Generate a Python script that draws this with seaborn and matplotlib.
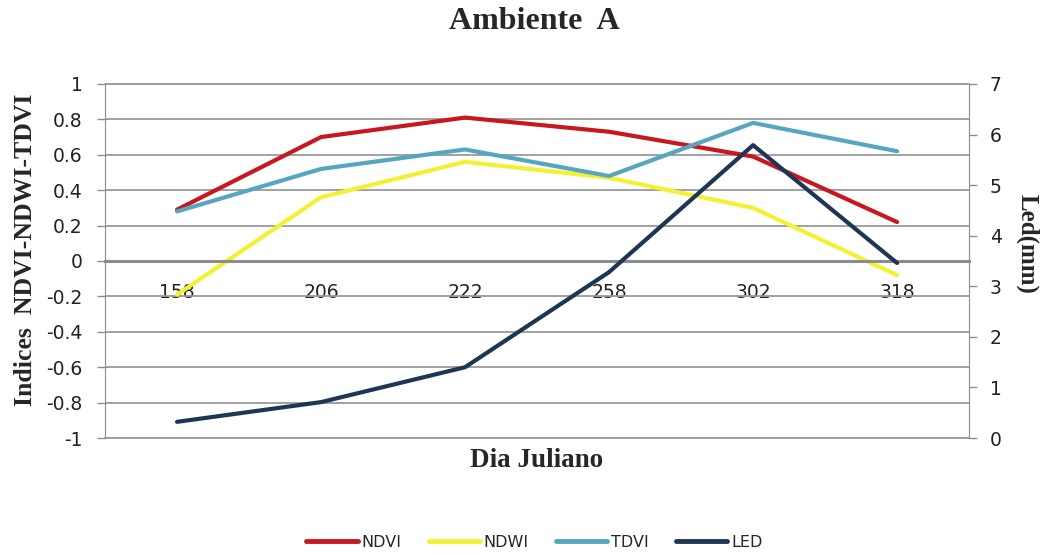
import pandas as pd
import matplotlib
matplotlib.use("Agg")
import matplotlib.pyplot as plt
import seaborn as sns

# Datos
dias = ["158", "206", "222", "258", "302", "318"]
ndvi = [0.29, 0.70, 0.81, 0.73, 0.59, 0.22]
ndwi = [-0.19, 0.36, 0.56, 0.47, 0.30, -0.08]
tdvi = [0.28, 0.52, 0.63, 0.48, 0.78, 0.62]
led = [0.32, 0.71, 1.40, 3.28, 5.79, 3.46]

colores = {"NDVI": "#C8171E", "NDWI": "#F2F233", "TDVI": "#55A6BE", "LED": "#1E3554"}

pos = list(range(len(dias)))
df = pd.DataFrame({
    "pos": pos * 3,
    "valor": ndvi + ndwi + tdvi,
    "indice": ["NDVI"] * 6 + ["NDWI"] * 6 + ["TDVI"] * 6,
})
df_led = pd.DataFrame({"pos": pos, "valor": led, "indice": ["LED"] * 6})

sns.set_style("white")
plt.rcParams["font.family"] = ["DejaVu Sans"]
gris = "#9a9a9a"
serif = "Liberation Serif"

fig = plt.figure(figsize=(10.4, 5.56), dpi=100)
ax = fig.add_axes([0.101, 0.2122, 0.8308, 0.6368])

sns.lineplot(data=df, x="pos", y="valor", hue="indice", palette=colores,
             linewidth=3, ax=ax, legend=False)

ax.set_xlim(-0.5, 5.5)
ax.set_ylim(-1, 1)
ax.set_yticks([-1, -0.8, -0.6, -0.4, -0.2, 0, 0.2, 0.4, 0.6, 0.8, 1])
ax.set_yticklabels(["-1", "-0.8", "-0.6", "-0.4", "-0.2", "0", "0.2", "0.4", "0.6", "0.8", "1"])
ax.yaxis.grid(True, color=gris, linewidth=1.3)
for yv in (-1, 1):
    ax.axhline(yv, color=gris, linewidth=1.3, clip_on=False, zorder=0.5)
ax.set_axisbelow(True)

# eje x cruzando en 0
ax.spines["bottom"].set_position(("data", 0))
ax.spines["bottom"].set_color("#8c8c8c")
ax.spines["bottom"].set_linewidth(2.2)
ax.spines["top"].set_visible(False)
ax.spines["left"].set_color("#8c8c8c")
ax.spines["right"].set_color("#8c8c8c")
ax.set_xticks(pos)
ax.set_xticklabels(dias)
ax.tick_params(axis="x", length=0, pad=16, labelsize=13.5, colors="#222222")
ax.tick_params(axis="y", length=6, width=1, color="#8c8c8c", labelsize=13.5,
               labelcolor="#222222", left=True, pad=10)
ax.set_xlabel("")
ax.set_ylabel("")

ax2 = ax.twinx()
sns.lineplot(data=df_led, x="pos", y="valor", color=colores["LED"],
             linewidth=3, ax=ax2, legend=False)
ax2.set_ylim(0, 7)
ax2.set_yticks(range(8))
for s in ax2.spines.values():
    s.set_visible(False)
ax2.tick_params(axis="y", length=6, width=1, color="#8c8c8c", labelsize=13.5,
                labelcolor="#222222", right=True, pad=9)
ax2.set_ylabel("")
ax2.set_xlim(-0.5, 5.5)

fig.text(0.514, 0.962, "Ambiente  A", family=serif, fontweight="bold",
         fontsize=23, ha="center", va="center")
fig.text(0.516, 0.172, "Dia Juliano", family=serif, fontweight="bold",
         fontsize=19.5, ha="center", va="center")
fig.text(0.025, 0.55, "Indices  NDVI-NDWI-TDVI", family=serif, fontweight="bold",
         fontsize=18.5, ha="center", va="center", rotation=90)
fig.text(0.9875, 0.561, "Led(mm)", family=serif, fontweight="bold",
         fontsize=18, ha="center", va="center", rotation=270)

handles = [plt.Line2D([], [], color=colores[k], linewidth=3.5) for k in colores]
fig.legend(handles, list(colores), loc="center", bbox_to_anchor=(0.514, 0.025),
           ncol=4, frameon=False, handlelength=3.2, handletextpad=0.25,
           columnspacing=1.7, fontsize=11.5)

fig.savefig("out.png", dpi=100)
